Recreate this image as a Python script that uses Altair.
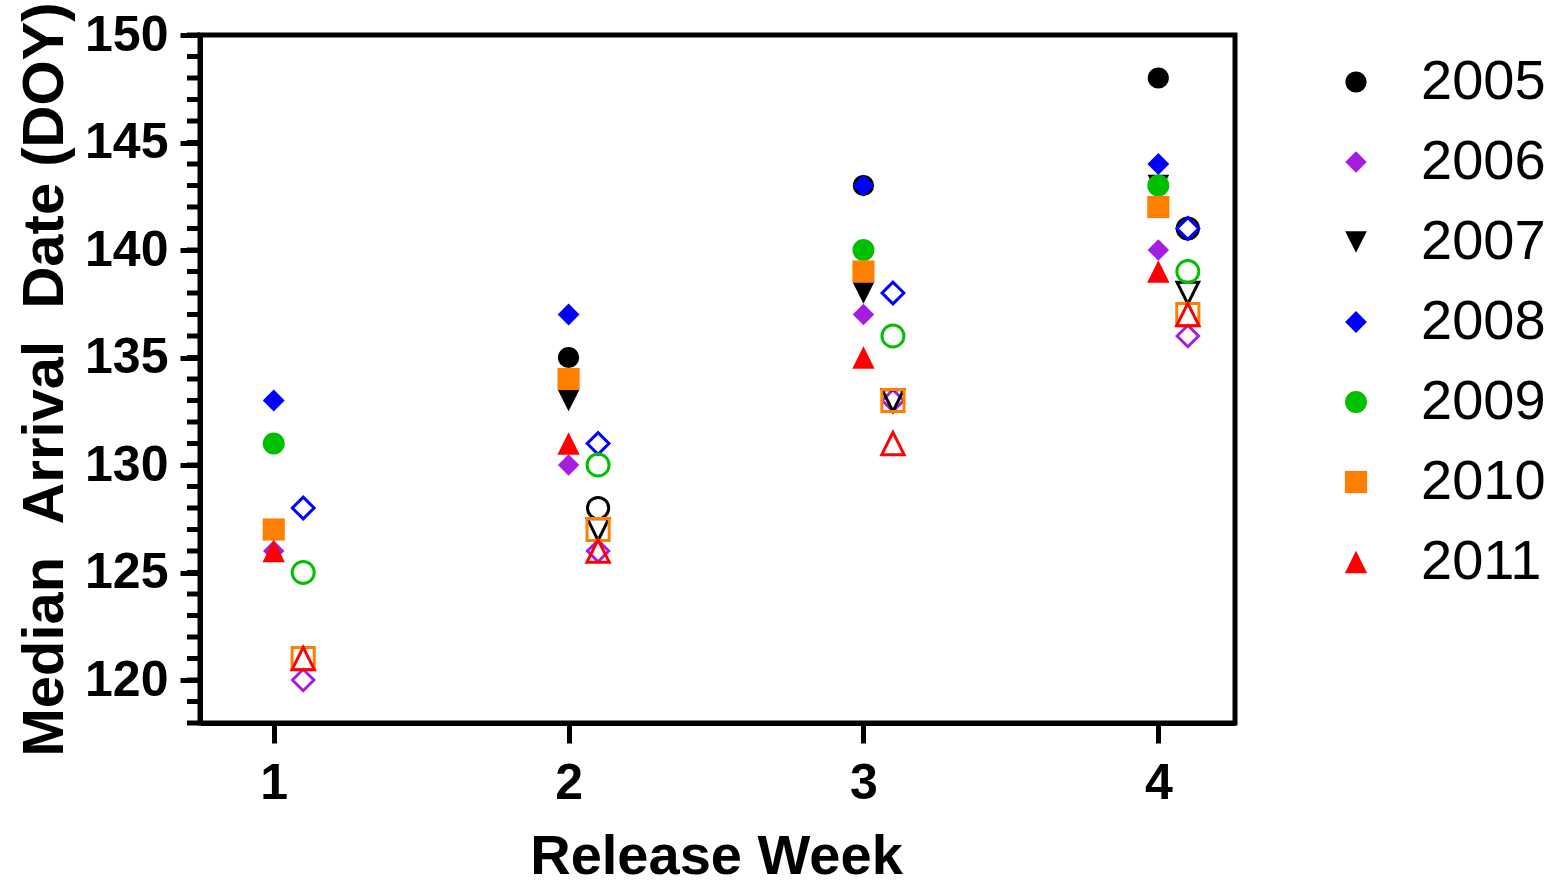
import altair as alt
import pandas as pd

years = ["2005", "2006", "2007", "2008", "2009", "2010", "2011"]
weeks = [1, 2, 3, 4]

# Median arrival date (DOY) per release week; solid symbols and open symbols
filled_2005 = [None, 135, 143, 148]
filled_2006 = [126, 130, 137, 140]
filled_2007 = [None, 133, 138, 143]
filled_2008 = [133, 137, 143, 144]
filled_2009 = [131, None, 140, 143]
filled_2010 = [127, 134, 139, 142]
filled_2011 = [126, 131, 135, 139]

open_2005 = [None, 128, None, 141]
open_2006 = [120, 126, 133, 136]
open_2007 = [None, 127, 133, 138]
open_2008 = [128, 131, 138, 141]
open_2009 = [125, 130, 136, 139]
open_2010 = [121, 127, 133, 137]
open_2011 = [121, 126, 131, 137]

filled_series = [filled_2005, filled_2006, filled_2007, filled_2008,
                 filled_2009, filled_2010, filled_2011]
open_series = [open_2005, open_2006, open_2007, open_2008,
               open_2009, open_2010, open_2011]

DIAMOND = "M-1,0L0,-1L1,0L0,1Z"
TRI_UP = "M0,-1L1,1L-1,1Z"
TRI_DOWN = "M-1,-1L1,-1L0,1Z"

colors = ["#000000", "#A61CE0", "#000000", "#0000FF", "#00C000", "#FF8000", "#FF0000"]
shapes = ["circle", DIAMOND, TRI_DOWN, DIAMOND, "circle", "square", TRI_UP]
sizes = [450, 500, 490, 500, 450, 520, 670]

major_ticks = [120, 125, 130, 135, 140, 145, 150]
minor_ticks = list(range(118, 151))
week_ticks = [1, 2, 3, 4]

filled_rows, open_rows = [], []
for i, yr in enumerate(years):
    for w, v in zip(weeks, filled_series[i]):
        if v is not None:
            filled_rows.append({"year": yr, "week": w, "doy": v, "ord": i})
    for w, v in zip(weeks, open_series[i]):
        if v is not None:
            open_rows.append({"year": yr, "week": w, "doy": v, "ord": i})

filled_df = pd.DataFrame(filled_rows)
open_df = pd.DataFrame(open_rows)
minor_df = pd.DataFrame({"doy": minor_ticks})

FONT = "Liberation Sans"

xscale = alt.Scale(domain=[0.75, 4.26], nice=False, zero=False)
yscale = alt.Scale(domain=[118, 150], nice=False, zero=False)

x_axis = alt.Axis(values=week_ticks, format="d", title="Release Week",
                  tickSize=20, tickWidth=5, domainWidth=5, grid=False,
                  labelFontSize=50, labelFontWeight="bold", labelFont=FONT,
                  labelBaseline="alphabetic", labelPadding=55,
                  titleFontSize=56, titleFontWeight="bold", titleFont=FONT,
                  titleBaseline="alphabetic", titleX=516, titleY=150,
                  labelColor="black", titleColor="black", tickColor="black",
                  domainColor="black")

y_axis = alt.Axis(values=major_ticks, title="Median\u00a0\u00a0Arrival\u00a0\u00a0Date (DOY)",
                  tickSize=20, tickWidth=5, domainWidth=5, grid=False,
                  labelFontSize=50, labelFontWeight="bold", labelFont=FONT,
                  labelPadding=12,
                  titleFontSize=58, titleFontWeight="bold", titleFont=FONT,
                  titleBaseline="alphabetic", titleX=-138, titleY=344,
                  labelColor="black", titleColor="black", tickColor="black",
                  domainColor="black")

color_scale = alt.Scale(domain=years, range=colors)
shape_scale = alt.Scale(domain=years, range=shapes)
size_scale = alt.Scale(domain=years, range=sizes)

minor = alt.Chart(minor_df).mark_rule(color="black", strokeWidth=5).encode(
    y=alt.Y("doy:Q", scale=yscale, axis=y_axis),
    x=alt.value(-13),
    x2=alt.value(0),
)

filled_layer = alt.Chart(filled_df).mark_point(filled=True, opacity=1, strokeWidth=0).encode(
    x=alt.X("week:Q", scale=xscale, axis=x_axis),
    y=alt.Y("doy:Q", scale=yscale, axis=y_axis),
    color=alt.Color("year:N", scale=color_scale,
                    legend=alt.Legend(title=None, orient="none", legendX=1128, legendY=19,
                                      labelFontSize=56, labelFont=FONT, labelColor="black",
                                      labelOffset=37, rowPadding=24, padding=0,
                                      symbolStrokeWidth=0)),
    shape=alt.Shape("year:N", scale=shape_scale),
    size=alt.Size("year:N", scale=size_scale),
    order=alt.Order("ord:Q"),
)

open_layer = alt.Chart(open_df).transform_calculate(
    week="datum.week + 0.1"
).mark_point(filled=False, opacity=1, strokeWidth=3).encode(
    x=alt.X("week:Q", scale=xscale, axis=x_axis),
    y=alt.Y("doy:Q", scale=yscale, axis=y_axis),
    color=alt.Color("year:N", scale=color_scale, legend=None),
    shape=alt.Shape("year:N", scale=shape_scale, legend=None),
    size=alt.Size("year:N", scale=size_scale, legend=None),
    order=alt.Order("ord:Q"),
)

chart = alt.layer(minor, filled_layer, open_layer).properties(
    width=1035, height=688,
    background="white",
    autosize=alt.AutoSizeParams(type="none"),
    padding={"left": 200, "top": 35, "right": 322, "bottom": 157},
).configure_view(stroke="black", strokeWidth=5)

chart.save("out.html", embed_options={"renderer": "svg", "actions": False})
